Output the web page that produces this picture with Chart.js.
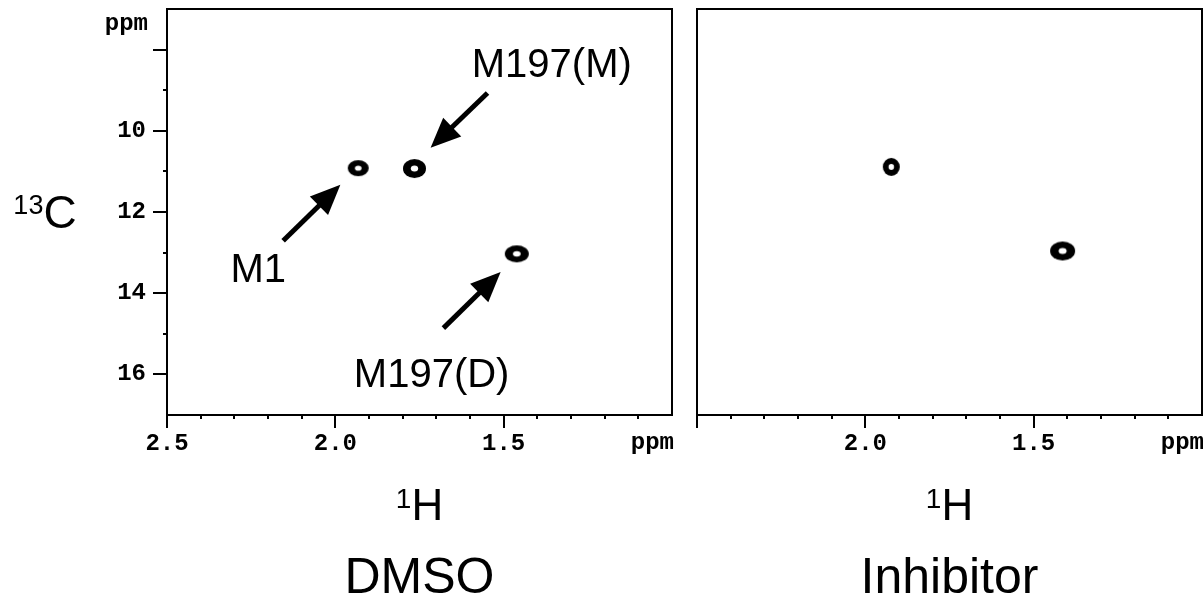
<!DOCTYPE html>
<html>
<head>
<meta charset="utf-8">
<script src="https://cdn.jsdelivr.net/npm/chart.js@4/dist/chart.umd.min.js"></script>
<style>
  body { margin: 0; background: #fff; }
  #wrap { display: flex; width: 1203px; height: 597px; }
  canvas { display: block; }
</style>
</head>
<body>
<div id="wrap">
  <canvas id="dmso" width="685" height="597"></canvas>
  <canvas id="inhib" width="518" height="597"></canvas>
</div>
<script>
// peak positions (1H ppm, 13C ppm)
const dmsoH = [1.932, 1.765, 1.461];
const dmsoC = [10.92, 10.93, 13.03];
const inhibH = [1.923, 1.414];
const inhibC = [10.89, 12.96];

// peak labels + arrows, in ppm
const peakNames = ["M1", "M197(M)", "M197(D)"];
const arrowTailH = [2.155, 1.548, 1.679];
const arrowTailC = [12.71, 9.07, 14.86];
const arrowTipH = [1.985, 1.717, 1.509];
const arrowTipC = [11.33, 10.42, 13.48];
const nameH = [2.229, 1.357, 1.714];
const nameC = [13.72, 8.67, 16.31];

// ticks
const hMajor = [2.5, 2.0, 1.5];
const dmsoHLabels = [2.5, 2.0, 1.5];
const inhibHLabels = [2.0, 1.5];
const cMajor = [8, 10, 12, 14, 16];
const cLabeled = [10, 12, 14, 16];

// spot sizes (w, h) in px
const dmsoSpots = [[21, 16], [23, 19], [24, 17]];
const inhibSpots = [[17, 18], [25, 19]];

const SANS = '"Liberation Sans", Arial, sans-serif';
const MONO = '"Liberation Mono", "Courier New", monospace';

function makeSpot(w, h) {
  const c = document.createElement("canvas");
  c.width = w + 2;
  c.height = h + 2;
  const g = c.getContext("2d");
  g.fillStyle = "#000";
  g.beginPath();
  g.ellipse(c.width / 2, c.height / 2, w / 2, h / 2, 0, 0, Math.PI * 2);
  g.fill();
  g.fillStyle = "#fff";
  g.beginPath();
  g.ellipse(c.width / 2, c.height / 2, w * 0.16, h * 0.16, 0, 0, Math.PI * 2);
  g.fill();
  return c;
}

const near = (list, v) => list.some((m) => Math.abs(m - v) < 1e-6);

function drawSup(ctx, sup, main, cx, base, mainSize, supSize) {
  ctx.font = `${supSize}px ${SANS}`;
  const ws = ctx.measureText(sup).width;
  ctx.font = `${mainSize}px ${SANS}`;
  const wm = ctx.measureText(main).width;
  const left = cx - (ws + wm) / 2;
  ctx.textAlign = "left";
  ctx.textBaseline = "alphabetic";
  ctx.fillText(main, left + ws, base);
  ctx.font = `${supSize}px ${SANS}`;
  ctx.fillText(sup, left, base - mainSize * 0.72 + supSize * 0.72);
}

function drawArrow(ctx, x1, y1, x2, y2) {
  const ang = Math.atan2(y2 - y1, x2 - x1);
  const head = 30;
  const half = 13;
  const bx = x2 - Math.cos(ang) * head;
  const by = y2 - Math.sin(ang) * head;
  ctx.lineWidth = 5;
  ctx.beginPath();
  ctx.moveTo(x1, y1);
  ctx.lineTo(bx + Math.cos(ang) * 4, by + Math.sin(ang) * 4);
  ctx.stroke();
  ctx.beginPath();
  ctx.moveTo(x2, y2);
  ctx.lineTo(bx - Math.sin(ang) * half, by + Math.cos(ang) * half);
  ctx.lineTo(bx + Math.sin(ang) * half, by - Math.cos(ang) * half);
  ctx.closePath();
  ctx.fill();
}

// fixed axis size, no extra room for overflowing labels
function fixSize(s, size) {
  if (s.isHorizontal()) s.height = size;
  else s.width = size;
  s.paddingTop = 0;
  s.paddingBottom = 0;
  s.paddingLeft = 0;
  s.paddingRight = 0;
}

const decor = {
  id: "decor",
  afterDraw(chart, args, opts) {
    const { ctx, chartArea: a, scales: { x, y } } = chart;
    ctx.save();
    ctx.strokeStyle = "#000";
    ctx.fillStyle = "#000";
    ctx.lineWidth = 2;
    ctx.strokeRect(a.left, a.top, a.right - a.left, a.bottom - a.top);

    // x tick marks
    x.ticks.forEach((t) => {
      if (Math.abs(t.value - 1.0) < 1e-6) return;
      const px = Math.round(x.getPixelForValue(t.value));
      const len = near(hMajor, t.value) ? 13 : 4;
      ctx.beginPath();
      ctx.moveTo(px, a.bottom);
      ctx.lineTo(px, a.bottom + len);
      ctx.stroke();
    });
    ctx.font = `bold 24px ${MONO}`;
    ctx.textAlign = "right";
    ctx.textBaseline = "middle";
    ctx.fillText("ppm", a.right + 2, a.bottom + 28);

    if (opts.yTicks) {
      y.ticks.forEach((t) => {
        if (t.value <= 7 || t.value >= 17) return;
        const py = Math.round(y.getPixelForValue(t.value));
        const len = near(cMajor, t.value) ? 14 : 4;
        ctx.beginPath();
        ctx.moveTo(a.left, py);
        ctx.lineTo(a.left - len, py);
        ctx.stroke();
      });
      ctx.textBaseline = "alphabetic";
      ctx.fillText("ppm", a.left - 19, a.top + 21);
      // 13C axis title
      drawSup(ctx, "13", "C", a.left - 122, y.getPixelForValue(12) + 16, 46, 27);
    }

    if (opts.notes) {
      peakNames.forEach((name, i) => {
        drawArrow(ctx,
          x.getPixelForValue(arrowTailH[i]), y.getPixelForValue(arrowTailC[i]),
          x.getPixelForValue(arrowTipH[i]), y.getPixelForValue(arrowTipC[i]));
        ctx.font = `40px ${SANS}`;
        ctx.textAlign = "center";
        ctx.textBaseline = "alphabetic";
        ctx.fillText(name, x.getPixelForValue(nameH[i]), y.getPixelForValue(nameC[i]));
      });
    }

    const cx = (a.left + a.right) / 2;
    drawSup(ctx, "1", "H", cx, 520, 44, 28);
    ctx.font = `50px ${SANS}`;
    ctx.textAlign = "center";
    ctx.textBaseline = "alphabetic";
    ctx.fillText(opts.title, cx, 593);
    ctx.restore();
  },
};

function makePanel(id, hs, cs, spots, hLabels, opts) {
  const data = hs.map((h, i) => ({ x: h, y: cs[i] }));
  return new Chart(document.getElementById(id), {
    type: "scatter",
    data: {
      datasets: [{
        data,
        pointStyle: spots.map(([w, h]) => makeSpot(w, h)),
        pointRadius: 10,
      }],
    },
    options: {
      responsive: false,
      animation: false,
      events: [],
      layout: { autoPadding: false, padding: opts.padding },
      plugins: { legend: { display: false }, tooltip: { enabled: false }, decor: opts },
      scales: {
        x: {
          type: "linear",
          min: 1.0,
          max: 2.5,
          reverse: true,
          grid: { display: false, drawTicks: false },
          border: { display: false },
          ticks: {
            stepSize: 0.1,
            autoSkip: false,
            maxRotation: 0,
            padding: 15,
            color: "#000",
            font: { family: MONO, size: 24, weight: "bold" },
            callback: (v) => (near(hLabels, v) ? v.toFixed(1) : ""),
          },
          afterFit: (s) => fixSize(s, 182),
        },
        y: {
          type: "linear",
          min: 7,
          max: 17,
          reverse: true,
          grid: { display: false, drawTicks: false },
          border: { display: false },
          ticks: {
            display: opts.yTicks,
            stepSize: 1,
            autoSkip: false,
            padding: 21,
            color: "#000",
            font: { family: MONO, size: 24, weight: "bold" },
            callback: (v) => (near(cLabeled, v) ? String(v) : ""),
          },
          afterFit: (s) => fixSize(s, opts.yWidth),
        },
      },
    },
    plugins: [decor],
  });
}

makePanel("dmso", dmsoH, dmsoC, dmsoSpots, dmsoHLabels, {
  yTicks: true, notes: true, title: "DMSO", yWidth: 167,
  padding: { top: 9, right: 13, left: 0, bottom: 0 },
});
makePanel("inhib", inhibH, inhibC, inhibSpots, inhibHLabels, {
  yTicks: false, notes: false, title: "Inhibitor", yWidth: 12,
  padding: { top: 9, right: 1, left: 0, bottom: 0 },
});
</script>
</body>
</html>
